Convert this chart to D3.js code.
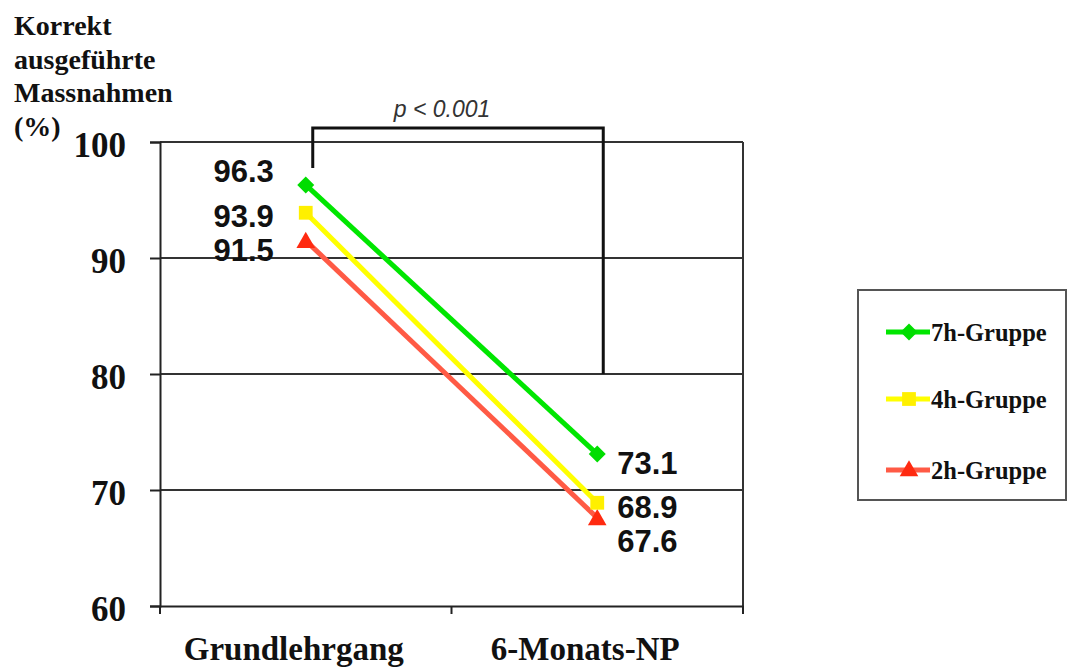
<!DOCTYPE html>
<html>
<head>
<meta charset="utf-8">
<script src="https://cdn.jsdelivr.net/npm/d3@7"></script>
<style>
  html, body { margin: 0; padding: 0; background: #fff; }
  svg { display: block; }
</style>
</head>
<body>
<svg id="chart" width="1069" height="668"></svg>
<script>
// Data
const categories = ["Grundlehrgang", "6-Monats-NP"];
const seriesNames = ["7h-Gruppe", "4h-Gruppe", "2h-Gruppe"];
const values7h = [96.3, 73.1];
const values4h = [93.9, 68.9];
const values2h = [91.5, 67.6];
const yTicks = [60, 70, 80, 90, 100];
const titleLines = ["Korrekt", "ausgeführte", "Massnahmen", "(%)"];
const pLabel = "p < 0.001";

// Styling per series
const styles = [
  { line: "#00e600", mark: "#00dd00", shape: "diamond" },
  { line: "#ffff00", mark: "#fff000", shape: "square" },
  { line: "#ff5a45", mark: "#ff2a10", shape: "triangle" }
];
// vertical nudges for value labels so they do not collide [series][category]
const labelNudge = [[-14, 9], [3, 4], [9, 23]];

const series = [values7h, values4h, values2h].map((v, i) => ({
  name: seriesNames[i], values: v, style: styles[i], nudge: labelNudge[i]
}));

const svg = d3.select("#chart");
const plot = { left: 160, right: 743, top: 142, bottom: 606 };

const x = d3.scaleBand().domain(categories).range([plot.left, plot.right]);
const xc = c => x(c) + x.bandwidth() / 2;
const y = d3.scaleLinear().domain([60, 100]).range([plot.bottom, plot.top]);

const serif = "'Liberation Serif', 'Times New Roman', serif";
const sans = "'Liberation Sans', Arial, sans-serif";

// Gridlines
svg.append("g")
  .selectAll("line")
  .data(yTicks.filter(t => t > 60))
  .join("line")
  .attr("x1", plot.left).attr("x2", plot.right)
  .attr("y1", d => y(d)).attr("y2", d => y(d))
  .attr("stroke", "#333").attr("stroke-width", 2);

// Right border
svg.append("line")
  .attr("x1", plot.right).attr("x2", plot.right)
  .attr("y1", plot.top).attr("y2", plot.bottom)
  .attr("stroke", "#333").attr("stroke-width", 2);

// Y axis
const yAxis = svg.append("g")
  .attr("transform", `translate(${plot.left},0)`)
  .call(d3.axisLeft(y).tickValues(yTicks).tickSize(10).tickPadding(24));
yAxis.select(".domain").attr("stroke", "#222").attr("stroke-width", 2);
yAxis.selectAll(".tick line").attr("stroke", "#222").attr("stroke-width", 2);
yAxis.selectAll(".tick text")
  .attr("font-family", serif).attr("font-weight", "bold")
  .attr("font-size", 35).attr("fill", "#111").attr("dy", "0.4em");

// X axis
const xAxis = svg.append("g")
  .attr("transform", `translate(0,${plot.bottom})`)
  .call(d3.axisBottom(x).tickSize(0).tickFormat(""));
xAxis.select(".domain").attr("stroke", "#222").attr("stroke-width", 2);
// tick marks at band edges
svg.append("g")
  .selectAll("line")
  .data([x(categories[0]), x(categories[1]), plot.right])
  .join("line")
  .attr("x1", d => d).attr("x2", d => d)
  .attr("y1", plot.bottom).attr("y2", plot.bottom + 8)
  .attr("stroke", "#222").attr("stroke-width", 2);
svg.append("g")
  .selectAll("text")
  .data(categories)
  .join("text")
  .attr("x", d => xc(d) - 12)
  .attr("y", 660)
  .attr("text-anchor", "middle")
  .attr("font-family", serif).attr("font-weight", "bold")
  .attr("font-size", 33).attr("fill", "#111")
  .text(d => d);

// Y title
svg.append("text")
  .attr("font-family", serif).attr("font-weight", "bold")
  .attr("font-size", 28).attr("fill", "#111")
  .selectAll("tspan")
  .data(titleLines)
  .join("tspan")
  .attr("x", 14)
  .attr("y", (d, i) => 35 + i * 33.5)
  .text(d => d);

// Significance bracket
const bx0 = xc(categories[0]) + 7;
const bx1 = xc(categories[1]) + 6;
const bTop = y(100) - 14;
svg.append("path")
  .attr("d", `M${bx0},${y(values7h[0]) - 17}V${bTop}H${bx1}V${y(80)}`)
  .attr("fill", "none").attr("stroke", "#111").attr("stroke-width", 3);
svg.append("text")
  .attr("x", (bx0 + bx1) / 2 - 16)
  .attr("y", 117)
  .attr("text-anchor", "middle")
  .attr("font-family", sans).attr("font-style", "italic")
  .attr("font-size", 23).attr("fill", "#333")
  .text(pLabel);

// Marker shapes
function markerPath(shape) {
  if (shape === "diamond") return "M0,-8.5L8.5,0L0,8.5L-8.5,0Z";
  if (shape === "square") return d3.symbol(d3.symbolSquare, 190)();
  return d3.symbol(d3.symbolTriangle, 150)();
}

// Lines and markers
const line = d3.line().x(d => xc(d.cat)).y(d => y(d.v));
const drawOrder = series.slice().reverse();
drawOrder.forEach(s => {
  const pts = s.values.map((v, i) => ({ cat: categories[i], v }));
  svg.append("path")
    .datum(pts)
    .attr("d", line)
    .attr("fill", "none")
    .attr("stroke", s.style.line)
    .attr("stroke-width", 5);
  svg.append("g")
    .selectAll("path")
    .data(pts)
    .join("path")
    .attr("transform", d => `translate(${xc(d.cat)},${y(d.v) + (s.style.shape === "triangle" ? 2 : 0)})`)
    .attr("d", markerPath(s.style.shape))
    .attr("fill", s.style.mark);
});

// Value labels
series.forEach(s => {
  s.values.forEach((v, i) => {
    const left = i === 0;
    svg.append("text")
      .attr("x", left ? xc(categories[0]) - 32 : xc(categories[1]) + 20)
      .attr("y", y(v) + s.nudge[i])
      .attr("dy", "0.36em")
      .attr("text-anchor", left ? "end" : "start")
      .attr("font-family", sans).attr("font-weight", "bold")
      .attr("font-size", 31).attr("fill", "#111")
      .text(d3.format(".1f")(v));
  });
});

// Legend
const legend = svg.append("g");
legend.append("rect")
  .attr("x", 858).attr("y", 290)
  .attr("width", 208).attr("height", 210)
  .attr("fill", "#fff").attr("stroke", "#555").attr("stroke-width", 2);
const rowY = [332, 399, 470];
series.forEach((s, i) => {
  const g = legend.append("g").attr("transform", `translate(0,${rowY[i]})`);
  g.append("line")
    .attr("x1", 886).attr("x2", 930)
    .attr("stroke", s.style.line).attr("stroke-width", 5);
  g.append("path")
    .attr("transform", `translate(909,${s.style.shape === "triangle" ? 1 : 0})`)
    .attr("d", markerPath(s.style.shape))
    .attr("fill", s.style.mark);
  g.append("text")
    .attr("x", 931).attr("dy", "0.35em")
    .attr("font-family", serif).attr("font-weight", "bold")
    .attr("font-size", 24.5).attr("fill", "#111")
    .text(s.name);
});
</script>
</body>
</html>
